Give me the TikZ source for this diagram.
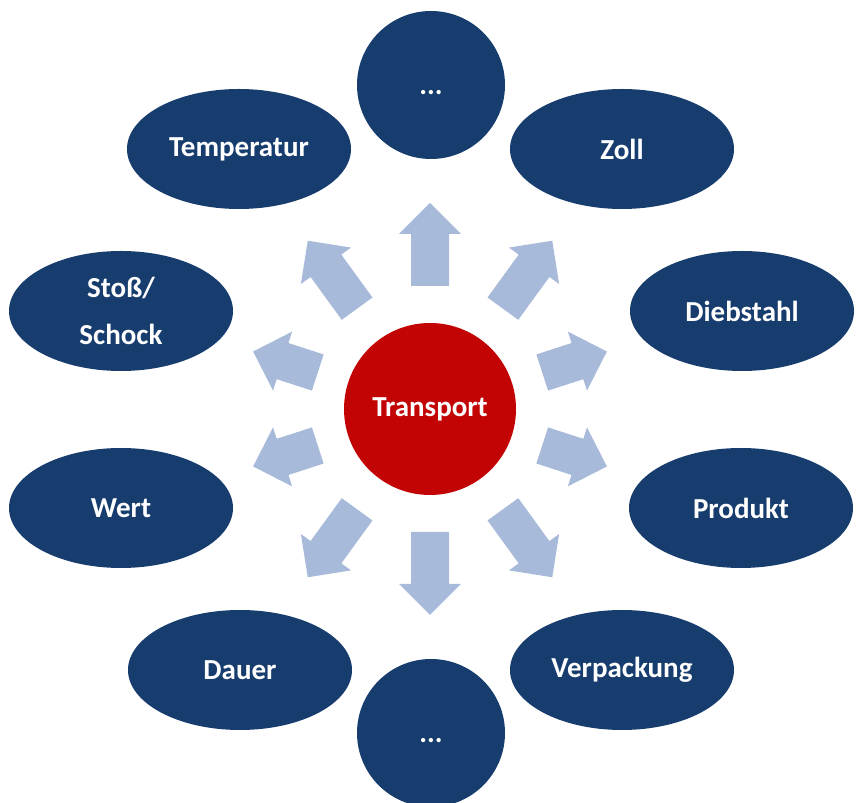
\documentclass[tikz,border=0pt]{standalone}
\usepackage{fontspec}
\setmainfont{Carlito}
\usetikzlibrary{shapes.geometric}
\definecolor{navy}{HTML}{173C6E}
\definecolor{pale}{HTML}{A8BADA}
\definecolor{redc}{HTML}{C20404}
\tikzset{
  lbl/.style={text=white, font=\bfseries\fontsize{29}{35}\selectfont, align=center},
  oval/.style={ellipse, fill=navy, minimum width=224pt, minimum height=120pt, inner sep=0pt, lbl},
  roundnode/.style={circle, fill=navy, minimum size=148pt, inner sep=0pt},
  hub/.style={circle, fill=redc, minimum size=172pt, inner sep=0pt, lbl},
  blockarrow/.style={fill=pale}
}
\begin{document}
\begin{tikzpicture}[x=1pt,y=1pt]
\useasboundingbox (0,0) rectangle (860,803);
\node[hub] (center) at (430,394) {Transport};
\node[roundnode] (top) at (431,718) {};
\node[lbl] (topdots) at ([yshift=-8pt]top.center) {...};
\node[roundnode] (bottom) at (431,70) {};
\node[lbl] (bottomdots) at ([yshift=-8pt]bottom.center) {...};
\node[oval] (temp) at (239,654) {Temperatur};
\node[oval] (zoll) at (622,654) {Zoll};
\node[oval] (stoss) at (121,492) {Stoß/\\[12pt]Schock};
\node[oval] (dieb) at (742,492) {Diebstahl};
\node[oval] (wert) at (121,295) {Wert};
\node[oval] (prod) at (741,295) {Produkt};
\node[oval] (dauer) at (240,133) {Dauer};
\node[oval] (verp) at (622,133) {Verpackung};
% block arrows radiating from the hub
\foreach \ang/\ra/\rb in {90/123/206, 54/124/208, 126/124/208, -90/123/206, -54/124/208, -126/124/208,
                          18/118/186, -18/118/186, 162/118/186, -162/118/186}{
  \begin{scope}[shift={(center.center)}, rotate=\ang]
    \fill[blockarrow] (\ra,-19) -- (\rb-31,-19) -- (\rb-31,-31) -- (\rb,0) -- (\rb-31,31) -- (\rb-31,19) -- (\ra,19) -- cycle;
  \end{scope}
}
\end{tikzpicture}
\end{document}
